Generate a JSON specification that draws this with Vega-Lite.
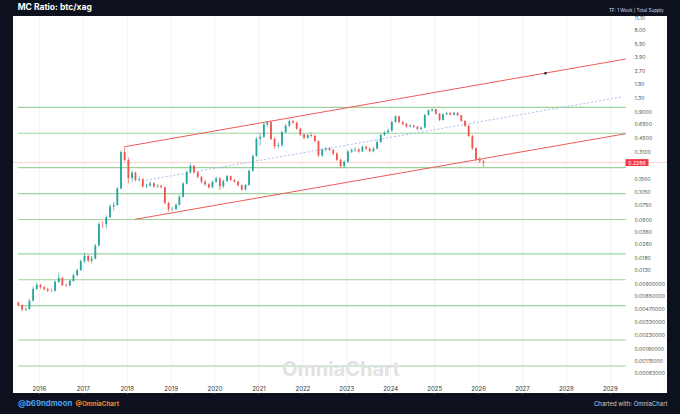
{
  "$schema": "https://vega.github.io/schema/vega-lite/v6.json",
  "width": 654,
  "height": 377,
  "autosize": {"type": "none"},
  "padding": {"left": 13, "top": 16, "right": 13, "bottom": 21},
  "background": "#0d111e",
  "title": {
    "text": "MC Ratio: btc/xag",
    "orient": "top",
    "anchor": "start",
    "frame": "group",
    "dx": 4.7,
    "dy": 8,
    "offset": 0,
    "baseline": "middle",
    "color": "#ffffff",
    "fontSize": 8.5,
    "fontWeight": "bold",
    "font": "Inter"
  },
  "config": {
    "font": "Inter",
    "view": {"fill": "#ffffff", "stroke": null}
  },
  "datasets": {
    "levels": [
      {"level": 1}, {"level": 0.5}, {"level": 0.2}, {"level": 0.1}, {"level": 0.05},
      {"level": 0.02}, {"level": 0.01}, {"level": 0.005}, {"level": 0.002}, {"level": 0.001}
    ],
    "last": [{"value": 0.2286}],
    "channel": [
      {"line": "upper", "d": "2017-12-15", "v": 0.349},
      {"line": "upper", "d": "2029-05-13", "v": 3.63},
      {"line": "lower", "d": "2018-03-11", "v": 0.0502},
      {"line": "lower", "d": "2029-05-13", "v": 0.494}
    ],
    "midline": [
      {"d": "2018-06-10", "v": 0.1424},
      {"d": "2029-04-20", "v": 1.327}
    ],
    "marker": [{"d": "2027-07-16", "v": 2.479}],
    "candles": [
      {"d": "2015-07-15", "o": 0.00542, "h": 0.0056, "l": 0.0049, "c": 0.00507},
      {"d": "2015-08-15", "o": 0.00507, "h": 0.0052, "l": 0.00432, "c": 0.00451},
      {"d": "2015-09-15", "o": 0.00451, "h": 0.0048, "l": 0.00435, "c": 0.00457},
      {"d": "2015-10-15", "o": 0.00457, "h": 0.006, "l": 0.0045, "c": 0.00572},
      {"d": "2015-11-15", "o": 0.00572, "h": 0.0083, "l": 0.0056, "c": 0.00783},
      {"d": "2015-12-15", "o": 0.00783, "h": 0.0093, "l": 0.0076, "c": 0.00872},
      {"d": "2016-01-15", "o": 0.00872, "h": 0.009, "l": 0.0078, "c": 0.0082},
      {"d": "2016-02-15", "o": 0.0082, "h": 0.0085, "l": 0.0075, "c": 0.00779},
      {"d": "2016-03-15", "o": 0.00779, "h": 0.0081, "l": 0.0072, "c": 0.00749},
      {"d": "2016-04-15", "o": 0.00749, "h": 0.0079, "l": 0.0072, "c": 0.00745},
      {"d": "2016-05-15", "o": 0.00745, "h": 0.0098, "l": 0.0073, "c": 0.00945},
      {"d": "2016-06-15", "o": 0.00945, "h": 0.0121, "l": 0.0092, "c": 0.01048},
      {"d": "2016-07-15", "o": 0.01048, "h": 0.0108, "l": 0.0084, "c": 0.00869},
      {"d": "2016-08-15", "o": 0.00869, "h": 0.009, "l": 0.0083, "c": 0.0086},
      {"d": "2016-09-15", "o": 0.0086, "h": 0.01, "l": 0.0084, "c": 0.00973},
      {"d": "2016-10-15", "o": 0.00973, "h": 0.0117, "l": 0.0095, "c": 0.01132},
      {"d": "2016-11-15", "o": 0.01132, "h": 0.0134, "l": 0.011, "c": 0.01294},
      {"d": "2016-12-15", "o": 0.01294, "h": 0.0172, "l": 0.0127, "c": 0.0165},
      {"d": "2017-01-15", "o": 0.0165, "h": 0.0205, "l": 0.0155, "c": 0.01886},
      {"d": "2017-02-15", "o": 0.01886, "h": 0.0195, "l": 0.016, "c": 0.01659},
      {"d": "2017-03-15", "o": 0.01659, "h": 0.019, "l": 0.0155, "c": 0.01759},
      {"d": "2017-04-15", "o": 0.01759, "h": 0.026, "l": 0.0172, "c": 0.02489},
      {"d": "2017-05-15", "o": 0.02489, "h": 0.0465, "l": 0.0245, "c": 0.04443},
      {"d": "2017-06-15", "o": 0.04443, "h": 0.048, "l": 0.0395, "c": 0.0442},
      {"d": "2017-07-15", "o": 0.0442, "h": 0.056, "l": 0.0395, "c": 0.05315},
      {"d": "2017-08-15", "o": 0.05315, "h": 0.075, "l": 0.052, "c": 0.0709},
      {"d": "2017-09-15", "o": 0.0709, "h": 0.08, "l": 0.064, "c": 0.0736},
      {"d": "2017-10-15", "o": 0.0736, "h": 0.12, "l": 0.072, "c": 0.1144},
      {"d": "2017-11-15", "o": 0.1144, "h": 0.315, "l": 0.112, "c": 0.303},
      {"d": "2017-12-15", "o": 0.303, "h": 0.349, "l": 0.235, "c": 0.2447},
      {"d": "2018-01-15", "o": 0.2447, "h": 0.26, "l": 0.132, "c": 0.1514},
      {"d": "2018-02-15", "o": 0.1514, "h": 0.185, "l": 0.138, "c": 0.1748},
      {"d": "2018-03-15", "o": 0.1748, "h": 0.18, "l": 0.138, "c": 0.1435},
      {"d": "2018-04-15", "o": 0.1435, "h": 0.158, "l": 0.138, "c": 0.1466},
      {"d": "2018-05-15", "o": 0.1466, "h": 0.152, "l": 0.117, "c": 0.121},
      {"d": "2018-06-15", "o": 0.121, "h": 0.13, "l": 0.115, "c": 0.1239},
      {"d": "2018-07-15", "o": 0.1239, "h": 0.138, "l": 0.12, "c": 0.1314},
      {"d": "2018-08-15", "o": 0.1314, "h": 0.136, "l": 0.116, "c": 0.1206},
      {"d": "2018-09-15", "o": 0.1206, "h": 0.129, "l": 0.117, "c": 0.1229},
      {"d": "2018-10-15", "o": 0.1229, "h": 0.126, "l": 0.115, "c": 0.1181},
      {"d": "2018-11-15", "o": 0.1181, "h": 0.12, "l": 0.075, "c": 0.0781},
      {"d": "2018-12-15", "o": 0.0781, "h": 0.08, "l": 0.062, "c": 0.0656},
      {"d": "2019-01-15", "o": 0.0656, "h": 0.07, "l": 0.063, "c": 0.0662},
      {"d": "2019-02-15", "o": 0.0662, "h": 0.077, "l": 0.064, "c": 0.074},
      {"d": "2019-03-15", "o": 0.074, "h": 0.096, "l": 0.072, "c": 0.0919},
      {"d": "2019-04-15", "o": 0.0919, "h": 0.136, "l": 0.09, "c": 0.1304},
      {"d": "2019-05-15", "o": 0.1304, "h": 0.185, "l": 0.127, "c": 0.1777},
      {"d": "2019-06-15", "o": 0.1777, "h": 0.2242, "l": 0.17, "c": 0.2097},
      {"d": "2019-07-15", "o": 0.2097, "h": 0.215, "l": 0.17, "c": 0.1763},
      {"d": "2019-08-15", "o": 0.1763, "h": 0.182, "l": 0.15, "c": 0.1563},
      {"d": "2019-09-15", "o": 0.1563, "h": 0.16, "l": 0.132, "c": 0.1371},
      {"d": "2019-10-15", "o": 0.1371, "h": 0.145, "l": 0.123, "c": 0.1279},
      {"d": "2019-11-15", "o": 0.1279, "h": 0.132, "l": 0.114, "c": 0.1184},
      {"d": "2019-12-15", "o": 0.1184, "h": 0.142, "l": 0.115, "c": 0.1368},
      {"d": "2020-01-15", "o": 0.1368, "h": 0.156, "l": 0.133, "c": 0.1494},
      {"d": "2020-02-15", "o": 0.1494, "h": 0.155, "l": 0.1099, "c": 0.1223},
      {"d": "2020-03-15", "o": 0.1223, "h": 0.145, "l": 0.115, "c": 0.1397},
      {"d": "2020-04-15", "o": 0.1397, "h": 0.165, "l": 0.136, "c": 0.1589},
      {"d": "2020-05-15", "o": 0.1589, "h": 0.162, "l": 0.14, "c": 0.1435},
      {"d": "2020-06-15", "o": 0.1435, "h": 0.148, "l": 0.134, "c": 0.1375},
      {"d": "2020-07-15", "o": 0.1375, "h": 0.14, "l": 0.121, "c": 0.1246},
      {"d": "2020-08-15", "o": 0.1246, "h": 0.128, "l": 0.108, "c": 0.1111},
      {"d": "2020-09-15", "o": 0.1111, "h": 0.13, "l": 0.109, "c": 0.1256},
      {"d": "2020-10-15", "o": 0.1256, "h": 0.19, "l": 0.123, "c": 0.1835},
      {"d": "2020-11-15", "o": 0.1835, "h": 0.285, "l": 0.18, "c": 0.2724},
      {"d": "2020-12-15", "o": 0.2724, "h": 0.45, "l": 0.265, "c": 0.4312},
      {"d": "2021-01-15", "o": 0.4312, "h": 0.5, "l": 0.36, "c": 0.4536},
      {"d": "2021-02-15", "o": 0.4536, "h": 0.66, "l": 0.44, "c": 0.6335},
      {"d": "2021-03-15", "o": 0.6335, "h": 0.694, "l": 0.6, "c": 0.67},
      {"d": "2021-04-15", "o": 0.67, "h": 0.69, "l": 0.415, "c": 0.43},
      {"d": "2021-05-15", "o": 0.43, "h": 0.45, "l": 0.33, "c": 0.354},
      {"d": "2021-06-15", "o": 0.354, "h": 0.39, "l": 0.335, "c": 0.3635},
      {"d": "2021-07-15", "o": 0.3635, "h": 0.535, "l": 0.35, "c": 0.5157},
      {"d": "2021-08-15", "o": 0.5157, "h": 0.64, "l": 0.5, "c": 0.6118},
      {"d": "2021-09-15", "o": 0.6118, "h": 0.7257, "l": 0.59, "c": 0.694},
      {"d": "2021-10-15", "o": 0.694, "h": 0.715, "l": 0.64, "c": 0.6647},
      {"d": "2021-11-15", "o": 0.6647, "h": 0.68, "l": 0.545, "c": 0.5647},
      {"d": "2021-12-15", "o": 0.5647, "h": 0.58, "l": 0.465, "c": 0.4825},
      {"d": "2022-01-15", "o": 0.4825, "h": 0.5, "l": 0.425, "c": 0.4429},
      {"d": "2022-02-15", "o": 0.4429, "h": 0.495, "l": 0.43, "c": 0.4761},
      {"d": "2022-03-15", "o": 0.4761, "h": 0.51, "l": 0.445, "c": 0.4648},
      {"d": "2022-04-15", "o": 0.4648, "h": 0.48, "l": 0.39, "c": 0.4067},
      {"d": "2022-05-15", "o": 0.4067, "h": 0.415, "l": 0.265, "c": 0.2754},
      {"d": "2022-06-15", "o": 0.2754, "h": 0.335, "l": 0.265, "c": 0.3232},
      {"d": "2022-07-15", "o": 0.3232, "h": 0.345, "l": 0.31, "c": 0.3327},
      {"d": "2022-08-15", "o": 0.3327, "h": 0.345, "l": 0.31, "c": 0.3198},
      {"d": "2022-09-15", "o": 0.3198, "h": 0.33, "l": 0.28, "c": 0.2912},
      {"d": "2022-10-15", "o": 0.2912, "h": 0.3, "l": 0.238, "c": 0.2455},
      {"d": "2022-11-15", "o": 0.2455, "h": 0.255, "l": 0.1961, "c": 0.208},
      {"d": "2022-12-15", "o": 0.208, "h": 0.242, "l": 0.198, "c": 0.2333},
      {"d": "2023-01-15", "o": 0.2333, "h": 0.32, "l": 0.228, "c": 0.3064},
      {"d": "2023-02-15", "o": 0.3064, "h": 0.335, "l": 0.295, "c": 0.3198},
      {"d": "2023-03-15", "o": 0.3198, "h": 0.345, "l": 0.305, "c": 0.324},
      {"d": "2023-04-15", "o": 0.324, "h": 0.34, "l": 0.298, "c": 0.3072},
      {"d": "2023-05-15", "o": 0.3072, "h": 0.36, "l": 0.3, "c": 0.3483},
      {"d": "2023-06-15", "o": 0.3483, "h": 0.36, "l": 0.32, "c": 0.3319},
      {"d": "2023-07-15", "o": 0.3319, "h": 0.342, "l": 0.3, "c": 0.3097},
      {"d": "2023-08-15", "o": 0.3097, "h": 0.345, "l": 0.302, "c": 0.3311},
      {"d": "2023-09-15", "o": 0.3311, "h": 0.415, "l": 0.325, "c": 0.3959},
      {"d": "2023-10-15", "o": 0.3959, "h": 0.495, "l": 0.385, "c": 0.4774},
      {"d": "2023-11-15", "o": 0.4774, "h": 0.53, "l": 0.465, "c": 0.5103},
      {"d": "2023-12-15", "o": 0.5103, "h": 0.565, "l": 0.495, "c": 0.5383},
      {"d": "2024-01-15", "o": 0.5383, "h": 0.7, "l": 0.52, "c": 0.6753},
      {"d": "2024-02-15", "o": 0.6753, "h": 0.81, "l": 0.66, "c": 0.7885},
      {"d": "2024-03-15", "o": 0.7885, "h": 0.8, "l": 0.65, "c": 0.6753},
      {"d": "2024-04-15", "o": 0.6753, "h": 0.69, "l": 0.62, "c": 0.6438},
      {"d": "2024-05-15", "o": 0.6438, "h": 0.66, "l": 0.58, "c": 0.5988},
      {"d": "2024-06-15", "o": 0.5988, "h": 0.635, "l": 0.585, "c": 0.615},
      {"d": "2024-07-15", "o": 0.615, "h": 0.63, "l": 0.575, "c": 0.5957},
      {"d": "2024-08-15", "o": 0.5957, "h": 0.61, "l": 0.54, "c": 0.5602},
      {"d": "2024-09-15", "o": 0.5602, "h": 0.6, "l": 0.545, "c": 0.5831},
      {"d": "2024-10-15", "o": 0.5831, "h": 0.84, "l": 0.57, "c": 0.8143},
      {"d": "2024-11-15", "o": 0.8143, "h": 0.945, "l": 0.8, "c": 0.923},
      {"d": "2024-12-15", "o": 0.923, "h": 0.97, "l": 0.89, "c": 0.953},
      {"d": "2025-01-15", "o": 0.953, "h": 0.96, "l": 0.82, "c": 0.843},
      {"d": "2025-02-15", "o": 0.843, "h": 0.86, "l": 0.69, "c": 0.7124},
      {"d": "2025-03-15", "o": 0.7124, "h": 0.85, "l": 0.7, "c": 0.8318},
      {"d": "2025-04-15", "o": 0.8318, "h": 0.89, "l": 0.81, "c": 0.8565},
      {"d": "2025-05-15", "o": 0.8565, "h": 0.88, "l": 0.8, "c": 0.8208},
      {"d": "2025-06-15", "o": 0.8208, "h": 0.89, "l": 0.805, "c": 0.8635},
      {"d": "2025-07-15", "o": 0.8635, "h": 0.88, "l": 0.79, "c": 0.8099},
      {"d": "2025-08-15", "o": 0.8099, "h": 0.82, "l": 0.675, "c": 0.6955},
      {"d": "2025-09-15", "o": 0.6955, "h": 0.71, "l": 0.59, "c": 0.6103},
      {"d": "2025-10-15", "o": 0.6103, "h": 0.63, "l": 0.45, "c": 0.4648},
      {"d": "2025-11-15", "o": 0.4648, "h": 0.48, "l": 0.32, "c": 0.3345},
      {"d": "2025-12-15", "o": 0.3345, "h": 0.345, "l": 0.24, "c": 0.2508},
      {"d": "2026-01-15", "o": 0.2508, "h": 0.265, "l": 0.225, "c": 0.2383},
      {"d": "2026-02-15", "o": 0.2383, "h": 0.245, "l": 0.2031, "c": 0.2286}
    ]
  },
  "layer": [
    {
      "data": {"name": "levels"},
      "mark": {"type": "rule", "color": "#9ad49c", "strokeWidth": 1.2},
      "encoding": {
        "x": {
          "datum": {"year": 2015, "month": 7, "date": 12},
          "type": "temporal",
          "scale": {"domain": [{"year": 2015, "month": 7, "date": 12}, {"year": 2030, "month": 3, "date": 11}]},
          "axis": null
        },
        "x2": {"datum": {"year": 2029, "month": 5, "date": 13}},
        "y": {
          "field": "level",
          "type": "quantitative",
          "scale": {"type": "log", "domain": [0.000486, 11.45], "nice": false},
          "axis": null
        }
      }
    },
    {
      "data": {"values": [{"label": "OmniaChart"}]},
      "mark": {"type": "text", "color": "#e2e2e2", "fontSize": 20, "fontWeight": "bold", "align": "center", "baseline": "middle"},
      "encoding": {
        "x": {"datum": {"year": 2022, "month": 11, "date": 18}, "type": "temporal", "axis": null},
        "y": {"datum": 0.000898, "type": "quantitative", "axis": null},
        "text": {"field": "label"}
      }
    },
    {
      "data": {"name": "last"},
      "mark": {"type": "rule", "color": "#f4a3a3", "strokeWidth": 0.6, "opacity": 0.8},
      "encoding": {
        "y": {"field": "value", "type": "quantitative", "axis": null}
      }
    },
    {
      "data": {"name": "channel"},
      "mark": {"type": "line", "color": "#ee5b5b", "strokeWidth": 1},
      "encoding": {
        "x": {"field": "d", "type": "temporal", "axis": null},
        "y": {"field": "v", "type": "quantitative", "axis": null},
        "detail": {"field": "line"}
      }
    },
    {
      "data": {"name": "midline"},
      "mark": {"type": "line", "color": "#a3b3ea", "strokeWidth": 0.9, "strokeDash": [2, 2]},
      "encoding": {
        "x": {"field": "d", "type": "temporal", "axis": null},
        "y": {"field": "v", "type": "quantitative", "axis": null}
      }
    },
    {
      "data": {"name": "marker"},
      "mark": {"type": "point", "filled": true, "color": "#2b2b2b", "size": 7, "opacity": 1},
      "encoding": {
        "x": {"field": "d", "type": "temporal", "axis": null},
        "y": {"field": "v", "type": "quantitative", "axis": null}
      }
    },
    {
      "data": {"name": "candles"},
      "mark": {"type": "rule", "strokeWidth": 0.7},
      "encoding": {
        "x": {
          "field": "d",
          "type": "temporal",
          "axis": {
            "orient": "top",
            "labels": false,
            "ticks": false,
            "domain": false,
            "grid": false,
            "title": "TF: 1 Week | Total Supply",
            "titleX": 650,
            "titleY": -5,
            "titleAlign": "right",
            "titleBaseline": "alphabetic",
            "titleColor": "#cfd6f6",
            "titleFontSize": 4.6,
            "titleFontWeight": "normal"
          }
        },
        "y": {
          "field": "l",
          "type": "quantitative",
          "axis": {
            "orient": "left",
            "labels": false,
            "ticks": false,
            "domain": false,
            "grid": false,
            "title": "@OmniaChart",
            "titleAngle": 0,
            "titleX": 62,
            "titleY": 387,
            "titleAlign": "left",
            "titleBaseline": "middle",
            "titleColor": "#f08a2c",
            "titleFontSize": 6.3,
            "titleFontWeight": "bold"
          }
        },
        "y2": {"field": "h"},
        "color": {"condition": {"test": "datum.c >= datum.o", "value": "#26a69a"}, "value": "#ef5350"}
      }
    },
    {
      "data": {"name": "candles"},
      "mark": {"type": "bar", "width": 1.8},
      "encoding": {
        "x": {
          "field": "d",
          "type": "temporal",
          "axis": {
            "orient": "bottom",
            "values": [
              {"year": 2016, "month": 1, "date": 1}, {"year": 2017, "month": 1, "date": 1},
              {"year": 2018, "month": 1, "date": 1}, {"year": 2019, "month": 1, "date": 1},
              {"year": 2020, "month": 1, "date": 1}, {"year": 2021, "month": 1, "date": 1},
              {"year": 2022, "month": 1, "date": 1}, {"year": 2023, "month": 1, "date": 1},
              {"year": 2024, "month": 1, "date": 1}, {"year": 2025, "month": 1, "date": 1},
              {"year": 2026, "month": 1, "date": 1}, {"year": 2027, "month": 1, "date": 1},
              {"year": 2028, "month": 1, "date": 1}, {"year": 2029, "month": 1, "date": 1}
            ],
            "format": "%Y",
            "labelPadding": -4.5,
            "labelBaseline": "middle",
            "labelFontSize": 6,
            "labelColor": "#333333",
            "labelFlush": false,
            "labelOverlap": false,
            "ticks": false,
            "tickSize": 0,
            "domain": false,
            "grid": true,
            "gridColor": "#eeeeee",
            "gridWidth": 0.7,
            "title": "@b69ndmoon",
            "titleX": 4.5,
            "titleY": 10,
            "titleAlign": "left",
            "titleBaseline": "middle",
            "titleColor": "#4aa3f5",
            "titleFontSize": 7.8,
            "titleFontWeight": "bold"
          }
        },
        "y": {
          "field": "o",
          "type": "quantitative",
          "axis": {
            "orient": "right",
            "values": [11.1, 8, 5.5, 3.9, 2.7, 1.9, 1.3, 0.9, 0.65, 0.45, 0.31, 0.15, 0.105, 0.075, 0.05, 0.036, 0.026, 0.018, 0.013, 0.009, 0.0065, 0.0047, 0.0033, 0.0023, 0.0016, 0.00115, 0.00083],
            "labelExpr": "datum.value >= 1 ? format(datum.value, '.2f') : datum.value >= 0.01 ? format(datum.value, '.4f') : format(datum.value, '.8f')",
            "labelPadding": -33,
            "labelFontSize": 5.2,
            "labelColor": "#555555",
            "labelOverlap": false,
            "labelFlush": false,
            "ticks": false,
            "tickSize": 0,
            "domain": false,
            "grid": false,
            "title": "Charted with: OmniaChart",
            "titleAngle": 0,
            "titleX": 0,
            "titleY": 387,
            "titleAlign": "right",
            "titleBaseline": "middle",
            "titleColor": "#c8ccd8",
            "titleFontSize": 6,
            "titleFontWeight": "normal"
          }
        },
        "y2": {"field": "c"},
        "color": {"condition": {"test": "datum.c >= datum.o", "value": "#26a69a"}, "value": "#ef5350"}
      }
    },
    {
      "data": {"name": "last"},
      "mark": {"type": "point", "shape": "M-1,-0.3H1V0.3H-1Z", "filled": true, "color": "#f23645", "opacity": 1, "size": 529},
      "encoding": {
        "x": {"datum": {"year": 2029, "month": 8, "date": 15}, "type": "temporal", "axis": null},
        "y": {"field": "value", "type": "quantitative", "axis": null}
      }
    },
    {
      "data": {"name": "last"},
      "mark": {"type": "text", "color": "#ffffff", "fontSize": 5.2, "align": "center", "baseline": "middle"},
      "encoding": {
        "x": {"datum": {"year": 2029, "month": 8, "date": 15}, "type": "temporal", "axis": null},
        "y": {"field": "value", "type": "quantitative", "axis": null},
        "text": {"field": "value", "format": ".4f"}
      }
    }
  ],
  "resolve": {"axis": {"x": "independent", "y": "independent"}}
}
